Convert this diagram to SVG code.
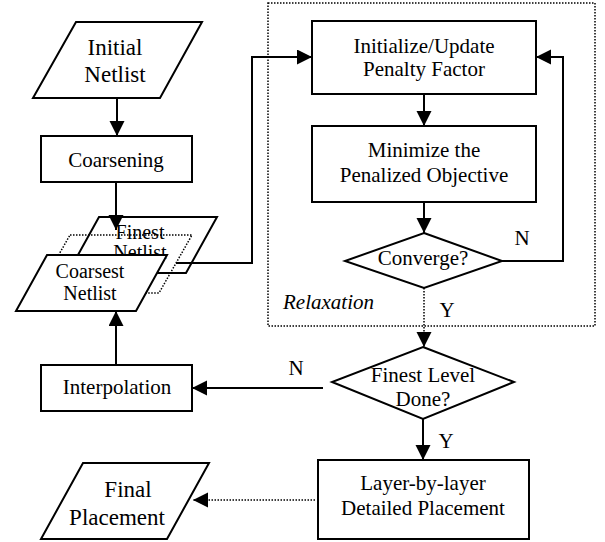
<svg xmlns="http://www.w3.org/2000/svg" width="605" height="542" viewBox="0 0 605 542">
  <style>
    text { font-family: "Liberation Serif", "Times New Roman", serif; font-size: 21px; fill: #000; text-anchor: middle; }
    .shape { fill: #fff; stroke: #000; stroke-width: 2; }
    .dotshape { fill: none; stroke: #000; stroke-width: 1.5; stroke-dasharray: 1.5 1.5; }
    .wire { fill: none; stroke: #000; stroke-width: 2; }
    .dotwire { fill: none; stroke: #000; stroke-width: 1.5; stroke-dasharray: 1.5 1.5; }
    .big { font-size: 23px; }
    .small { font-size: 20px; }
  </style>
  <defs>
    <marker id="arrow" markerUnits="userSpaceOnUse" markerWidth="16" markerHeight="16" refX="15" refY="7.5" orient="auto">
      <path d="M0,0 L15,7.5 L0,15 Z" fill="#000"/>
    </marker>
  </defs>

  <!-- relaxation frame -->
  <g id="relaxation">
    <rect class="dotshape" x="268" y="3" width="327" height="323"/>
    <text x="283" y="309" style="font-style:italic;text-anchor:start">Relaxation</text>
  </g>

  <g id="initial-netlist">
    <polygon class="shape" points="76,22 202,22 160,98 33,98"/>
    <text class="big" x="115" y="55">Initial</text>
    <text class="big" x="115" y="82">Netlist</text>
  </g>

  <g id="coarsening">
    <rect class="shape" x="41" y="136" width="151" height="46"/>
    <text x="116" y="167">Coarsening</text>
  </g>

  <g id="finest-netlist">
    <polygon class="shape" points="99,217 217,217 186,273 68,273"/>
    <text class="small" x="140" y="239">Finest</text>
    <text class="small" x="140" y="259">Netlist</text>
  </g>

  <g id="netlist-stack">
    <polygon class="dotshape" points="70,235 192,235 159,293 37,293"/>
  </g>

  <g id="coarsest-netlist">
    <polygon class="shape" points="47,255 167,255 136,311 16,311"/>
    <text class="small" x="90" y="278">Coarsest</text>
    <text class="small" x="90" y="300">Netlist</text>
  </g>

  <g id="interpolation">
    <rect class="shape" x="41" y="365" width="151" height="46"/>
    <text x="117" y="394">Interpolation</text>
  </g>

  <g id="final-placement">
    <polygon class="shape" points="83,463 209,463 167,539 41,539"/>
    <text class="big" x="128" y="497">Final</text>
    <text class="big" x="117" y="525">Placement</text>
  </g>

  <g id="penalty-factor">
    <rect class="shape" x="312" y="21" width="224" height="73"/>
    <text x="424" y="53">Initialize/Update</text>
    <text x="424" y="76">Penalty Factor</text>
  </g>

  <g id="minimize">
    <rect class="shape" x="312" y="126" width="224" height="76"/>
    <text x="424" y="157">Minimize the</text>
    <text x="424" y="182">Penalized Objective</text>
  </g>

  <g id="converge">
    <polygon class="shape" points="424,233 502,261 424,288 345,261"/>
    <text x="423" y="265">Converge?</text>
  </g>

  <g id="finest-level-done">
    <polygon class="shape" points="423,347 514,382 423,419 332,382"/>
    <text x="423" y="382">Finest Level</text>
    <text x="423" y="406">Done?</text>
  </g>

  <g id="detailed-placement">
    <rect class="shape" x="318" y="460" width="211" height="79"/>
    <text x="423" y="490">Layer-by-layer</text>
    <text x="423" y="515">Detailed Placement</text>
  </g>

  <g id="connectors">
    <line class="wire" x1="117" y1="98" x2="117" y2="136" marker-end="url(#arrow)"/>
    <line class="wire" x1="116" y1="182" x2="116" y2="230" marker-end="url(#arrow)"/>
    <polyline class="wire" points="176,263 252,263 252,57 312,57" marker-end="url(#arrow)"/>
    <line class="wire" x1="424" y1="94" x2="424" y2="126" marker-end="url(#arrow)"/>
    <line class="wire" x1="424" y1="202" x2="424" y2="233" marker-end="url(#arrow)"/>
    <polyline class="wire" points="502,261 563,261 563,57 536,57" marker-end="url(#arrow)"/>
    <line class="dotwire" x1="424" y1="288" x2="424" y2="347" marker-end="url(#arrow)"/>
    <line class="wire" x1="323" y1="388" x2="192" y2="388" marker-end="url(#arrow)"/>
    <line class="wire" x1="116" y1="365" x2="116" y2="311" marker-end="url(#arrow)"/>
    <line class="wire" x1="423" y1="419" x2="423" y2="460" marker-end="url(#arrow)"/>
    <line class="dotwire" x1="315" y1="500" x2="193" y2="500" marker-end="url(#arrow)"/>
    <text x="522" y="245">N</text>
    <text x="447" y="317">Y</text>
    <text x="296" y="375">N</text>
    <text x="446" y="448">Y</text>
  </g>
</svg>
